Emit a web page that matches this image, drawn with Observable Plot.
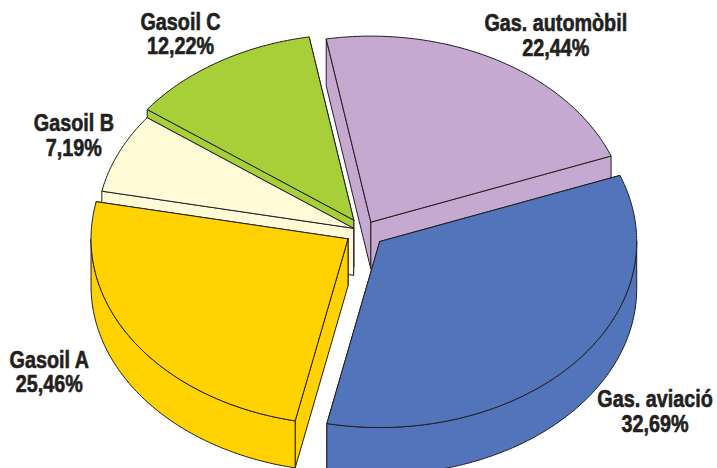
<!DOCTYPE html>
<html>
<head>
<meta charset="utf-8">
<script src="https://cdn.jsdelivr.net/npm/d3@7"></script>
<script src="https://cdn.jsdelivr.net/npm/@observablehq/plot@0.6"></script>
<style>
html,body{margin:0;padding:0;background:#fff;overflow:hidden}
</style>
</head>
<body>
<div id="chart"></div>
<script>
// Data
const categories = ["Gas. automòbil", "Gas. aviació", "Gasoil A", "Gasoil B", "Gasoil C"];
const shares = [22.44, 32.69, 25.46, 7.19, 12.22];

// Styling and pie layout
const colors = ["#c5a9d1", "#5274ba", "#ffd200", "#fffbd7", "#a6cf38"];
const drawOrder = [0, 4, 3, 2, 1];
const ink = "#231f20";
const pull = [0.058, 0.083, 0.072, 0.042, 0.072];
const boundaryNudge = [0, -1.6, 3.4, 1.4, 0.5];
const labelNudge = [[58, -25], [80, 49], [-84, 31], [-45, -17], [-38, -28]];
const centre = [363, 231], rx = 257, ry = 186, depth = 47, firstAngle = -100;

const rad = (a) => (a * Math.PI) / 180;
let running = firstAngle;
const starts = shares.map((s, i) => {
  const a = running + boundaryNudge[i];
  running += (s / 100) * 360;
  return a;
});
const slices = shares.map((s, i) => {
  const a0 = starts[i];
  const a1 = i + 1 < starts.length ? starts[i + 1] : starts[0] + 360;
  const mid = (a0 + a1) / 2;
  const cx = centre[0] + pull[i] * rx * Math.cos(rad(mid));
  const cy = centre[1] + pull[i] * ry * Math.sin(rad(mid));
  const rim = (a, drop = 0) => ({x: cx + rx * Math.cos(rad(a)), y: cy + ry * Math.sin(rad(a)) + drop});
  const arc = (from, to, drop = 0) => {
    const n = Math.max(2, Math.ceil(Math.abs(to - from)));
    return d3.range(n + 1).map((k) => rim(from + ((to - from) * k) / n, drop));
  };
  const apex = {x: cx, y: cy};
  const low = {x: cx, y: cy + depth};
  const polys = [];
  // radial walls, the one further back first
  [a0, a1]
    .sort((p, q) => rim(p).y - rim(q).y)
    .forEach((a) => polys.push([apex, rim(a), rim(a, depth), low, apex]));
  // outer wall: the part of the rim that faces the viewer
  const norm = (a) => ((a % 360) + 360) % 360;
  let f = norm(a0), t = f + (a1 - a0);
  [[0, 180], [360, 540]].forEach(([lo, hi]) => {
    const p = Math.max(f, lo), q = Math.min(t, hi);
    if (q > p) {
      const top = arc(p, q), bottom = arc(q, p, depth);
      polys.push([...top, ...bottom, top[0]]);
    }
  });
  // top face
  polys.push([apex, ...arc(a0, a1), apex]);
  const m = rim(mid);
  return {
    polys,
    color: colors[i],
    label: `${categories[i]}\n${s.toFixed(2).replace(".", ",")}%`,
    lx: m.x + labelNudge[i][0],
    ly: m.y + labelNudge[i][1]
  };
});

const marks = [];
drawOrder.forEach((i) => {
  slices[i].polys.forEach((poly) => {
    marks.push(Plot.line(poly, {
      x: "x", y: "y", fill: slices[i].color, stroke: ink,
      strokeWidth: 1, strokeLinejoin: "round", curve: "linear"
    }));
  });
});
marks.push(Plot.text(slices, {
  x: "lx", y: "ly", text: "label", fill: ink, stroke: ink, strokeWidth: 0.6,
  fontSize: 23, fontWeight: "bold", fontFamily: "'Liberation Sans',sans-serif",
  lineHeight: 1.07, textAnchor: "middle", lineAnchor: "middle"
}));

const chart = Plot.plot({
  width: 717, height: 468,
  margin: 0,
  x: {domain: [0, 717], range: [0, 717], axis: null},
  y: {domain: [0, 468], range: [0, 468], axis: null},
  marks
});
// The reference type is a condensed bold: narrow each label about its anchor.
d3.select(chart).selectAll("text").each(function () {
  const t = this.getAttribute("transform") || "";
  this.setAttribute("transform", `${t} scale(0.86,1)`);
});
document.getElementById("chart").append(chart);
</script>
</body>
</html>
